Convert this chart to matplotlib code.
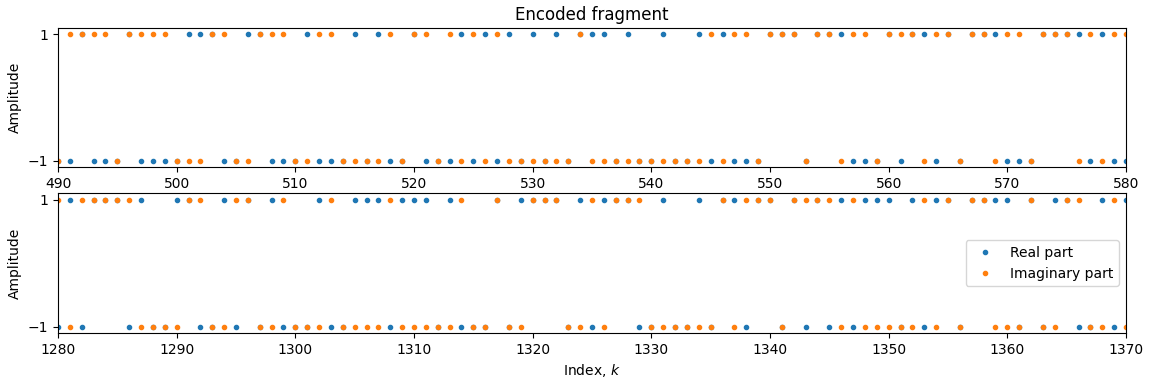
import numpy as np
import matplotlib.pyplot as plt

# fragment 1: indices 490..580
k_top = np.arange(490, 581)
re_top = [-1, -1, 1, -1, -1, -1, 1, -1, -1, -1,
          -1, 1, 1, 1, -1, -1, 1, 1, -1, -1,
          -1, 1, -1, -1, -1, 1, -1, 1, -1, -1,
          1, -1, -1, -1, 1, -1, 1, -1, 1, -1,
          1, -1, 1, -1, 1, 1, 1, -1, 1, -1,
          -1, 1, -1, -1, 1, -1, 1, -1, -1, -1,
          1, 1, 1, -1, 1, 1, 1, -1, -1, -1,
          1, -1, 1, 1, -1, 1, -1, 1, 1, 1,
          -1, -1, -1, 1, 1, 1, 1, -1, 1, -1,
          -1]
im_top = [-1, 1, 1, 1, 1, -1, 1, 1, 1, 1,
          -1, -1, -1, 1, 1, -1, -1, 1, 1, 1,
          -1, -1, 1, 1, -1, -1, -1, -1, 1, -1,
          1, 1, -1, 1, -1, 1, -1, 1, -1, -1,
          -1, -1, -1, -1, 1, -1, -1, -1, -1, -1,
          -1, -1, -1, -1, -1, 1, -1, 1, 1, -1,
          1, 1, 1, -1, 1, 1, -1, 1, 1, -1,
          1, 1, 1, -1, 1, 1, -1, 1, 1, -1,
          1, 1, -1, 1, 1, 1, -1, 1, -1, 1,
          1]

# fragment 2: indices 1280..1370
k_bot = np.arange(1280, 1371)
re_bot = [-1, 1, -1, 1, 1, 1, -1, 1, -1, -1,
          1, 1, -1, -1, 1, -1, 1, -1, 1, -1,
          -1, -1, 1, -1, -1, 1, 1, 1, -1, 1,
          1, 1, -1, 1, -1, -1, -1, 1, -1, 1,
          1, 1, 1, -1, 1, -1, 1, 1, 1, -1,
          -1, 1, -1, -1, 1, -1, 1, 1, -1, 1,
          1, -1, 1, -1, 1, -1, 1, -1, 1, 1,
          1, -1, 1, -1, 1, 1, -1, 1, 1, 1,
          1, -1, 1, -1, 1, 1, -1, -1, 1, -1,
          1]
im_bot = [1, -1, 1, 1, 1, 1, 1, -1, -1, -1,
          -1, 1, 1, -1, -1, 1, 1, -1, -1, 1,
          -1, -1, -1, 1, -1, -1, -1, -1, 1, -1,
          -1, -1, -1, -1, 1, -1, -1, 1, -1, -1,
          1, 1, 1, -1, -1, 1, -1, 1, 1, 1,
          -1, -1, -1, -1, -1, -1, 1, -1, 1, 1,
          1, -1, 1, 1, 1, 1, -1, 1, -1, -1,
          -1, -1, -1, 1, -1, 1, -1, 1, 1, -1,
          -1, -1, 1, -1, -1, 1, 1, -1, -1, 1,
          -1]

fig = plt.figure(figsize=(11.49, 3.84), dpi=100)
ax1 = fig.add_axes([0.0505, 0.565, 0.9295, 0.362])
ax2 = fig.add_axes([0.0505, 0.133, 0.9295, 0.364])

for ax, k, re, im in [(ax1, k_top, re_top, im_top), (ax2, k_bot, re_bot, im_bot)]:
    ax.plot(k, re, '.', label='Real part')
    ax.plot(k, im, '.', label='Imaginary part')
    ax.set_xlim(k[0], k[-1])
    ax.set_yticks([-1, 1])
    ax.set_ylabel('Amplitude')

ax1.set_title('Encoded fragment')
ax2.set_xlabel('Index, $k$')
ax2.legend(loc='center right')

plt.savefig('out.png', dpi=100)
